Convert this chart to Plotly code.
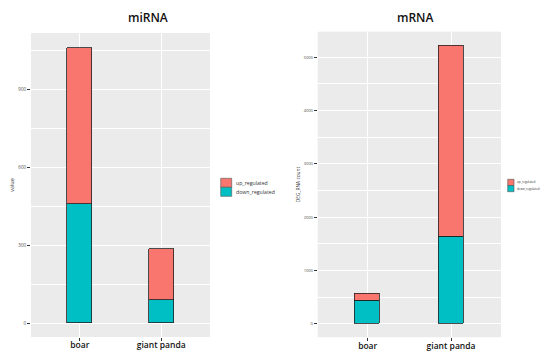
import plotly.graph_objects as go

# ---- data ----
species = ["boar", "giant panda"]
series_names = ["up_regulated", "down_regulated"]
mirna_up = [601, 196]
mirna_down = [459, 88]
mrna_up = [138, 3576]
mrna_down = [425, 1637]
mirna_ticks = [0, 300, 600, 900]
mrna_ticks = [0, 1000, 2000, 3000, 4000, 5000]

UP = "#F8766D"
DOWN = "#00BFC4"
W, H = 550, 360

def px_x(v):
    return v / W

def px_y(v):
    return 1 - v / H

fig = go.Figure()
bar_line = dict(color="#222222", width=0.8)
fig.add_trace(go.Bar(x=species, y=mirna_down, name=series_names[1], marker=dict(color=DOWN, line=bar_line),
                     width=0.31, xaxis="x", yaxis="y", showlegend=False))
fig.add_trace(go.Bar(x=species, y=mirna_up, name=series_names[0], marker=dict(color=UP, line=bar_line),
                     width=0.31, xaxis="x", yaxis="y", showlegend=False))
fig.add_trace(go.Bar(x=species, y=mrna_down, name=series_names[1], marker=dict(color=DOWN, line=bar_line),
                     width=0.30, xaxis="x2", yaxis="y2", showlegend=False))
fig.add_trace(go.Bar(x=species, y=mrna_up, name=series_names[0], marker=dict(color=UP, line=bar_line),
                     width=0.30, xaxis="x2", yaxis="y2", showlegend=False))

font_family = "Open Sans"
xaxis_common = dict(type="category", range=[-0.6, 1.6], showgrid=True, gridcolor="white", gridwidth=1,
                    ticks="outside", ticklen=3, tickcolor="#333333", tickwidth=0.6, automargin=False,
                    ticklabelstandoff=-3,
                    tickfont=dict(family=font_family, size=8.5, color="#111111", weight=600),
                    showline=False, zeroline=False)
yaxis_common = dict(showgrid=True, gridcolor="white", gridwidth=1, ticks="outside", ticklen=3,
                    tickcolor="#333333", tickwidth=0.6, tickformat="d", zeroline=False, showline=False,
                    automargin=False)

fig.update_layout(
    width=W, height=H, margin=dict(l=0, r=0, t=0, b=0, autoexpand=False),
    paper_bgcolor="white", plot_bgcolor="#EBEBEB", barmode="stack", bargap=0,
    font=dict(family=font_family),
    xaxis=dict(xaxis_common, domain=[31 / W, 210 / W], anchor="y"),
    yaxis=dict(yaxis_common, domain=[px_y(337), px_y(33)], anchor="x", range=[-53, 1116],
               tickvals=mirna_ticks, tickfont=dict(size=4.5, color="#4D4D4D"),
               minor=dict(showgrid=True, gridcolor="white", gridwidth=0.5, dtick=300, tick0=150),
               title=dict(text="value", font=dict(size=5.5, color="#333333"), standoff=3)),
    xaxis2=dict(xaxis_common, domain=[317.7 / W, 501 / W], anchor="y2"),
    yaxis2=dict(yaxis_common, domain=[px_y(337.3), px_y(31.7)], anchor="x2", range=[-255, 5481],
                tickvals=mrna_ticks, tickfont=dict(size=4, color="#4D4D4D"),
                minor=dict(showgrid=True, gridcolor="white", gridwidth=0.5, dtick=1000, tick0=500),
                title=dict(text="DEG_RNA count", font=dict(size=4.8, color="#333333"), standoff=3)),
)

# titles
fig.add_annotation(text="miRNA", x=px_x(148), y=px_y(17), xref="paper", yref="paper", showarrow=False,
                   xanchor="center", yanchor="middle",
                   font=dict(family=font_family, size=12, color="#111111", weight=600))
fig.add_annotation(text="mRNA", x=px_x(415), y=px_y(17), xref="paper", yref="paper", showarrow=False,
                   xanchor="center", yanchor="middle",
                   font=dict(family=font_family, size=12, color="#111111", weight=600))

# legends (manual, to match the small ggplot keys)
def legend(x0, sw, top, sh, fsize, tx):
    for i, (name, col) in enumerate(zip(series_names, [UP, DOWN])):
        y0 = top + i * sh
        fig.add_shape(type="rect", xref="paper", yref="paper",
                      x0=px_x(x0), x1=px_x(x0 + sw), y0=px_y(y0), y1=px_y(y0 + sh),
                      fillcolor=col, line=dict(color="#555555", width=0.6))
        fig.add_annotation(text=name, x=px_x(tx), y=px_y(y0 + sh / 2), xref="paper", yref="paper",
                           showarrow=False, xanchor="left", yanchor="middle",
                           font=dict(family=font_family, size=fsize, color="#333333"))

legend(220.7, 11, 178.3, 9, 5.2, 234)
legend(507.7, 6.3, 179.3, 6.2, 3, 515)

fig.write_html("out.html", config={"displayModeBar": False},
               post_script="document.body.style.margin='0';document.body.style.overflow='hidden';")
